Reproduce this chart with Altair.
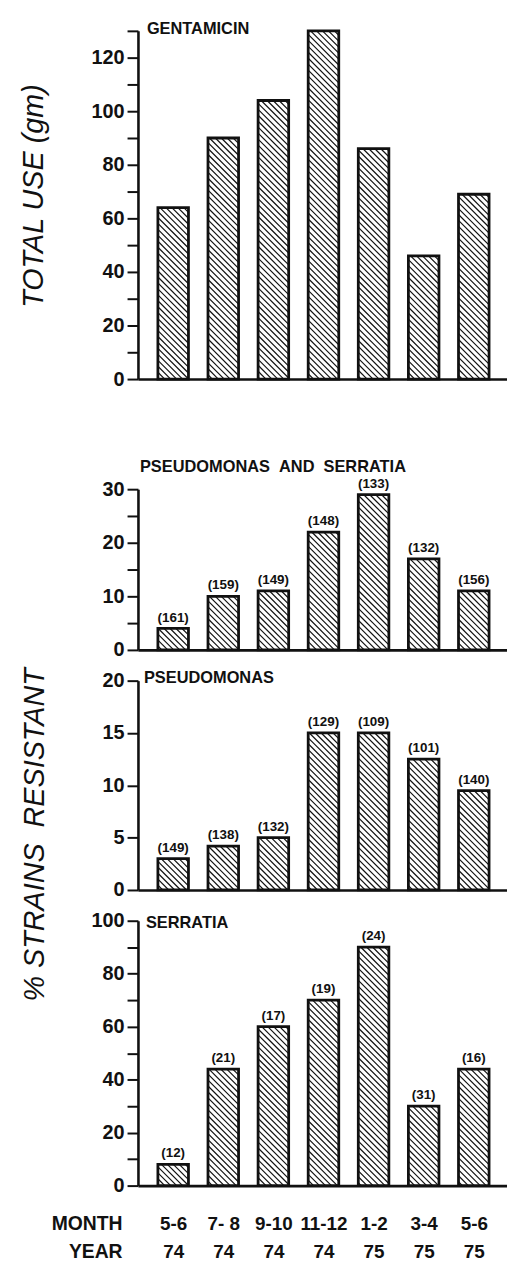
import json
import altair as alt
import pandas as pd

# ---------------- data ----------------
months = ["5-6", "7- 8", "9-10", "11-12", "1-2", "3-4", "5-6"]
years = ["74", "74", "74", "74", "75", "75", "75"]

gentamicin_use = [64, 90, 104, 130, 86, 46, 69]

ps_resist = [4, 10, 11, 22, 29, 17, 11]
ps_n = [161, 159, 149, 148, 133, 132, 156]

pseudo_resist = [3, 4.2, 5, 15, 15, 12.5, 9.5]
pseudo_n = [149, 138, 132, 129, 109, 101, 140]

serr_resist = [8, 44, 60, 70, 90, 30, 44]
serr_n = [12, 21, 17, 19, 24, 31, 16]

# ---------------- styling ----------------
FONT = "Liberation Sans, Arial, sans-serif"
W = 372
X_DOMAIN = [-0.703, 6.663]
HALF = 0.305          # half bar width in x units
HATCH_STEP = 6.0      # horizontal px between hatch lines
BLACK = "#111111"

xscale = alt.Scale(domain=X_DOMAIN, nice=False, zero=False)


def frame(values):
    return pd.DataFrame({"idx": list(range(len(values))), "v": values})


def hatch(values, ymax, H):
    pxx = W / (X_DOMAIN[1] - X_DOMAIN[0])
    pxy = H / ymax
    rows = []
    for i, v in enumerate(values):
        xl = (i - HALF - X_DOMAIN[0]) * pxx
        xr = (i + HALF - X_DOMAIN[0]) * pxx
        yt = H - v * pxy
        yb = H
        k0 = int((yt - xr) // HATCH_STEP)
        k1 = int((yb - xl) // HATCH_STEP) + 1
        for k in range(k0, k1 + 1):
            c = k * HATCH_STEP
            xs = max(xl, yt - c)
            xe = min(xr, yb - c)
            if xe - xs > 0.8:
                rows.append({
                    "hx": xs / pxx + X_DOMAIN[0],
                    "hy": (H - (xs + c)) / pxy,
                    "hx2": xe / pxx + X_DOMAIN[0],
                    "hy2": (H - (xe + c)) / pxy,
                })
    return pd.DataFrame(rows)


def panel(values, counts, ymax, H, ticks, label_every, title, title_dx,
          title_dy, ytitle=None, ytitle_x=0, ytitle_y=0, bottom=False):
    yscale = alt.Scale(domain=[0, ymax], nice=False, zero=True)
    ykw = dict(
        values=ticks,
        labelExpr=f"datum.value % {label_every} == 0 ? datum.label : ''",
        tickSize=11, tickWidth=2, tickColor=BLACK,
        domainWidth=2.6, domainColor=BLACK,
        labelFont=FONT, labelFontSize=20, labelFontWeight="bold",
        labelColor=BLACK, labelPadding=3, grid=False,
    )
    if ytitle:
        ykw.update(title=ytitle, titleFont=FONT, titleFontSize=29,
                   titleFontStyle="italic", titleFontWeight="normal",
                   titleColor=BLACK, titleAngle=270, titleX=ytitle_x,
                   titleY=ytitle_y, titleBaseline="alphabetic",
                   titleAlign="center")
    else:
        ykw.update(title=None)
    yaxis = alt.Axis(**ykw)

    if bottom:
        expr = "[" + json.dumps(months) + "[datum.value], " + json.dumps(years) + "[datum.value]]"
        xaxis = alt.Axis(
            values=list(range(len(months))), labelExpr=expr, ticks=False,
            domainWidth=2.6, domainColor=BLACK,
            labelFont=FONT, labelFontSize=19, labelFontWeight="bold",
            labelColor=BLACK, labelPadding=29, labelLineHeight=28,
            labelBaseline="top", labelOverlap=False, labelFlush=False,
            title=["MONTH", "YEAR"], titleFont=FONT, titleFontSize=19.5,
            titleFontWeight="bold", titleColor=BLACK, titleAlign="right",
            titleBaseline="top", titleX=-16, titleY=29, titleLineHeight=28,
            grid=False,
        )
    else:
        xaxis = alt.Axis(labels=False, ticks=False, title=None,
                         domainWidth=2.6, domainColor=BLACK, grid=False)

    df = frame(values)
    df["n"] = counts if counts is not None else [None] * len(values)
    base = alt.Chart(df)

    bars = base.mark_rect(fill="white", stroke=BLACK, strokeWidth=2.8).transform_calculate(
        xl=f"datum.idx - {HALF}", xr=f"datum.idx + {HALF}", y0="0"
    ).encode(
        x=alt.X("xl:Q", scale=xscale, axis=xaxis),
        x2="xr:Q",
        y=alt.Y("v:Q", scale=yscale, axis=yaxis),
        y2="y0:Q",
    )

    hd = hatch(values, ymax, H)
    lines = alt.Chart(hd).mark_rule(stroke=BLACK, strokeWidth=1.2).encode(
        x=alt.X("hx:Q", scale=xscale, axis=xaxis),
        x2="hx2:Q",
        y=alt.Y("hy:Q", scale=yscale, axis=yaxis),
        y2="hy2:Q",
    )

    layers = [bars, lines]
    if counts is not None:
        txt = base.mark_text(
            baseline="alphabetic", dy=-7, font=FONT, fontSize=13.5,
            fontWeight="bold", color=BLACK
        ).transform_calculate(
            lab="'(' + datum.n + ')'"
        ).encode(
            x=alt.X("idx:Q", scale=xscale, axis=xaxis),
            y=alt.Y("v:Q", scale=yscale, axis=yaxis),
            text="lab:N",
        )
        layers.append(txt)

    name = alt.Chart(pd.DataFrame({"t": [title]})).mark_text(
        align="left", baseline="alphabetic", font=FONT, fontSize=16.5,
        fontWeight="bold", color=BLACK
    ).encode(x=alt.value(title_dx), y=alt.value(title_dy), text="t:N")
    layers.append(name)

    return alt.layer(*layers).properties(width=W, height=H)


p1 = panel(gentamicin_use, None, 130, 351, list(range(0, 131, 10)), 20,
           "GENTAMICIN", 9, 3, ytitle="TOTAL USE (gm)",
           ytitle_x=-96, ytitle_y=166)
p2 = panel(ps_resist, ps_n, 30, 162, list(range(0, 31, 5)), 10,
           "PSEUDOMONAS\u00a0\u00a0AND\u00a0\u00a0SERRATIA", 2, -17)
p3 = panel(pseudo_resist, pseudo_n, 20, 211, [0, 5, 10, 15, 20], 5,
           "PSEUDOMONAS", 6, 2, ytitle="%\u00a0STRAINS\u00a0\u00a0RESISTANT",
           ytitle_x=-95, ytitle_y=155)
p4 = panel(serr_resist, serr_n, 100, 267, list(range(0, 101, 10)), 20,
           "SERRATIA", 8, 7, bottom=True)

spacer = alt.Chart(pd.DataFrame({"a": [0]})).mark_text(text="").encode(
    x=alt.value(0), y=alt.value(0)
).properties(width=W, height=49)

chart = alt.vconcat(p1, spacer, p2, p3, p4, spacing=31, bounds="flush").properties(
    padding={"left": 12, "top": 8, "right": 0, "bottom": 0},
    background="white",
).configure_view(strokeWidth=0)

chart.save("out.html", embed_options={"renderer": "svg", "actions": False})
